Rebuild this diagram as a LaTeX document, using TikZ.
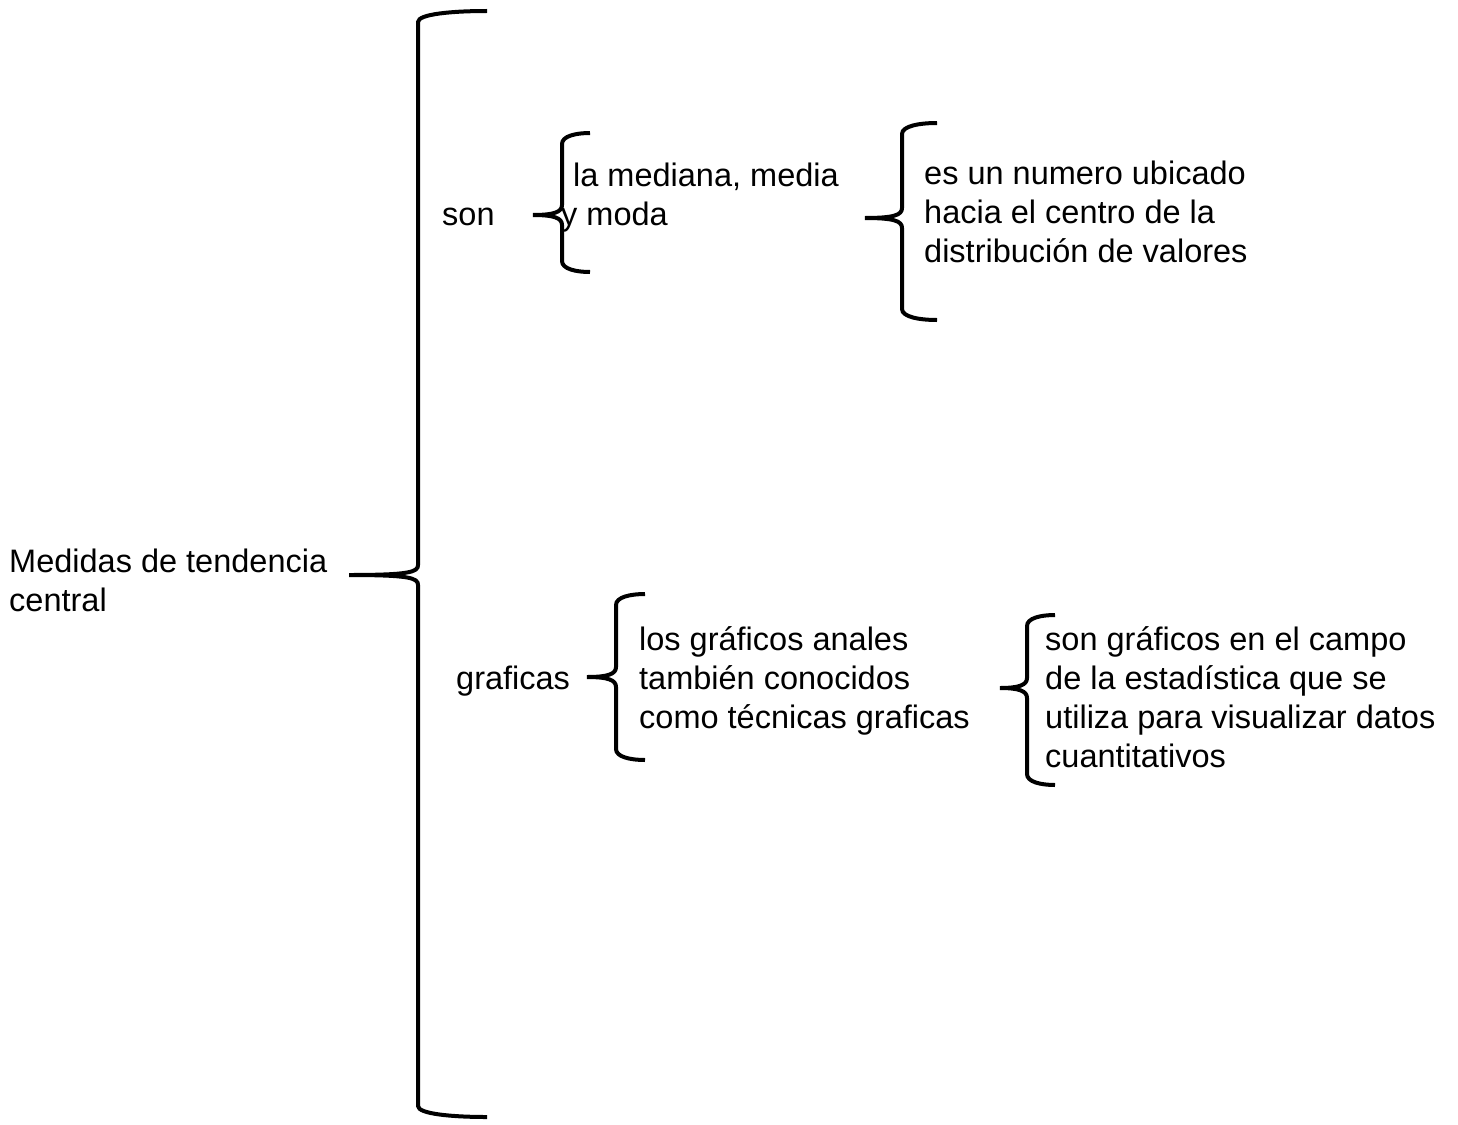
\documentclass[tikz,border=0pt]{standalone}
\usepackage{fontspec}
\setmainfont{Liberation Sans}
\usetikzlibrary{positioning}

% left curly brace: bar x, end x, tip x, top y, tip y, bottom y
\newcommand\drawbrace[6]{%
  \draw[brace line] (#2,#4) .. controls ({(#1+#2)/2},#4) and (#1,{#4+3}) .. (#1,{#4+11})
    -- (#1,{#5-10}) .. controls (#1,{#5-3}) and ({#1-8},#5) .. (#3,#5)
    .. controls ({#1-8},#5) and (#1,{#5+3}) .. (#1,{#5+10})
    -- (#1,{#6-11}) .. controls (#1,{#6-3}) and ({(#1+#2)/2},#6) .. (#2,#6);
}

\begin{document}
\begin{tikzpicture}[x=1pt,y=-1pt,
  txt/.style={anchor=base west,inner sep=0pt,align=left,
    font=\fontsize{32.5}{38.8}\selectfont},
  brace line/.style={line width=4pt}]
 \useasboundingbox (0,0) rectangle (1458,1124);
 % base = baseline of the last line
 \node[txt] (medidas) at (9,611) {Medidas de tendencia\\central};
 \node[txt] (son) at (442,225) {son};
 \node[txt] (tipos) at (561,225) {\hspace*{12pt}la mediana, media\\y moda};
 \node[txt] (defmedidas) at (924,262) {es un numero ubicado\\hacia el centro de la\\distribución de valores};
 \node[txt] (graficas) at (456,689) {graficas};
 \node[txt] (tecnicas) at (639,728) {los gráficos anales\\también conocidos\\como técnicas graficas};
 \node[txt] (defgraficas) at (1045,767) {son gráficos en el campo\\de la estadística que se\\utiliza para visualizar datos\\cuantitativos};
 % braces
 \drawbrace{418}{487}{349}{11}{575}{1117}
 \drawbrace{562}{590}{533}{133}{215}{272}
 \drawbrace{902}{937}{865}{123}{218}{320}
 \drawbrace{616}{645}{587}{594}{677}{760}
 \drawbrace{1027}{1055}{1000}{615}{688}{785}
\end{tikzpicture}
\end{document}
